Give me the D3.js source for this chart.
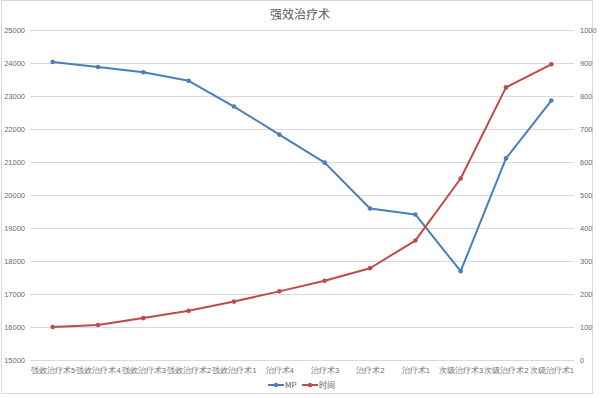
<!DOCTYPE html>
<html lang="zh">
<head>
<meta charset="UTF-8">
<title>强效治疗术</title>
<style>
  body { margin: 0; padding: 0; background: #fff; }
  svg { display: block; font-family: "Noto Sans CJK SC", "Noto Sans", sans-serif; }
  .grid line { stroke: #d9d9d9; stroke-width: 1px; }
  .tick text { fill: #6b6b6b; font-size: 7.5px; }
</style>
</head>
<body>
<div id="chart"></div>
<script src="https://d3js.org/d3.v7.min.js"></script>
<script>
  // categories and series
  const categories = ["强效治疗术5", "强效治疗术4", "强效治疗术3", "强效治疗术2", "强效治疗术1",
    "治疗术4", "治疗术3", "治疗术2", "治疗术1", "次级治疗术3", "次级治疗术2", "次级治疗术1"];
  const mpValues = [24030, 23880, 23720, 23460, 22680, 21830, 20980, 19590, 19410, 17690, 21110, 22860];
  const timeValues = [100, 106, 127, 149, 177, 208, 240, 278, 362, 550, 826, 896];
  const leftTicks = [15000, 16000, 17000, 18000, 19000, 20000, 21000, 22000, 23000, 24000, 25000];
  const rightTicks = [0, 100, 200, 300, 400, 500, 600, 700, 800, 900, 1000];

  const width = 600, height = 398;
  const plot = { left: 30, right: 574, top: 30, bottom: 360 };

  const svg = d3.select("#chart").append("svg")
    .attr("width", width)
    .attr("height", height);

  // chart area border
  svg.append("rect")
    .attr("x", 1.5).attr("y", 0.5)
    .attr("width", 591).attr("height", 393)
    .attr("fill", "#fff")
    .attr("stroke", "#d9d9d9");

  const x = d3.scalePoint().domain(categories)
    .range([plot.left, plot.right]).padding(0.5);
  const yLeft = d3.scaleLinear().domain([15000, 25000]).range([plot.bottom, plot.top]);
  const yRight = d3.scaleLinear().domain([0, 1000]).range([plot.bottom, plot.top]);

  // gridlines
  svg.append("g").attr("class", "grid")
    .selectAll("line")
    .data(leftTicks)
    .enter().append("line")
    .attr("x1", plot.left).attr("x2", plot.right)
    .attr("y1", d => Math.round(yLeft(d)) + 0.5)
    .attr("y2", d => Math.round(yLeft(d)) + 0.5);

  // left axis
  const axL = svg.append("g")
    .attr("transform", `translate(${plot.left - 5},0)`)
    .call(d3.axisLeft(yLeft).tickValues(leftTicks).tickFormat(d3.format("d")).tickSize(0).tickPadding(0));
  axL.select(".domain").remove();

  // right axis
  const axR = svg.append("g")
    .attr("transform", `translate(${plot.right + 6},0)`)
    .call(d3.axisRight(yRight).tickValues(rightTicks).tickFormat(d3.format("d")).tickSize(0).tickPadding(0));
  axR.select(".domain").remove();

  // category axis
  const axB = svg.append("g")
    .attr("transform", `translate(0,${plot.bottom + 6})`)
    .call(d3.axisBottom(x).tickSize(0).tickPadding(0));
  axB.select(".domain").remove();
  axB.selectAll("text").attr("dy", "0.9em");

  // series
  const series = [
    { name: "MP", values: mpValues, y: yLeft, color: "#4a7ebb" },
    { name: "时间", values: timeValues, y: yRight, color: "#be4b48" }
  ];

  series.forEach(s => {
    const line = d3.line()
      .x((d, i) => x(categories[i]))
      .y(d => s.y(d));
    svg.append("path")
      .datum(s.values)
      .attr("fill", "none")
      .attr("stroke", s.color)
      .attr("stroke-width", 2)
      .attr("stroke-linejoin", "round")
      .attr("d", line);
    svg.append("g").selectAll("circle")
      .data(s.values)
      .enter().append("circle")
      .attr("cx", (d, i) => x(categories[i]))
      .attr("cy", d => s.y(d))
      .attr("r", 2.3)
      .attr("fill", s.color);
  });

  // title
  svg.append("text")
    .attr("x", 300).attr("y", 19)
    .attr("text-anchor", "middle")
    .attr("fill", "#595959")
    .style("font-size", "12px")
    .text("强效治疗术");

  // legend
  const legend = svg.append("g").attr("transform", "translate(268,385)");
  series.forEach((s, i) => {
    const g = legend.append("g").attr("transform", `translate(${i * 34},0)`);
    g.append("line").attr("x1", 0).attr("x2", 16)
      .attr("stroke", s.color).attr("stroke-width", 2);
    g.append("circle").attr("cx", 8).attr("r", 2.2).attr("fill", s.color);
    g.append("text").attr("x", 17).attr("y", 3)
      .attr("fill", "#595959").style("font-size", "8px")
      .text(s.name);
  });
</script>
</body>
</html>
